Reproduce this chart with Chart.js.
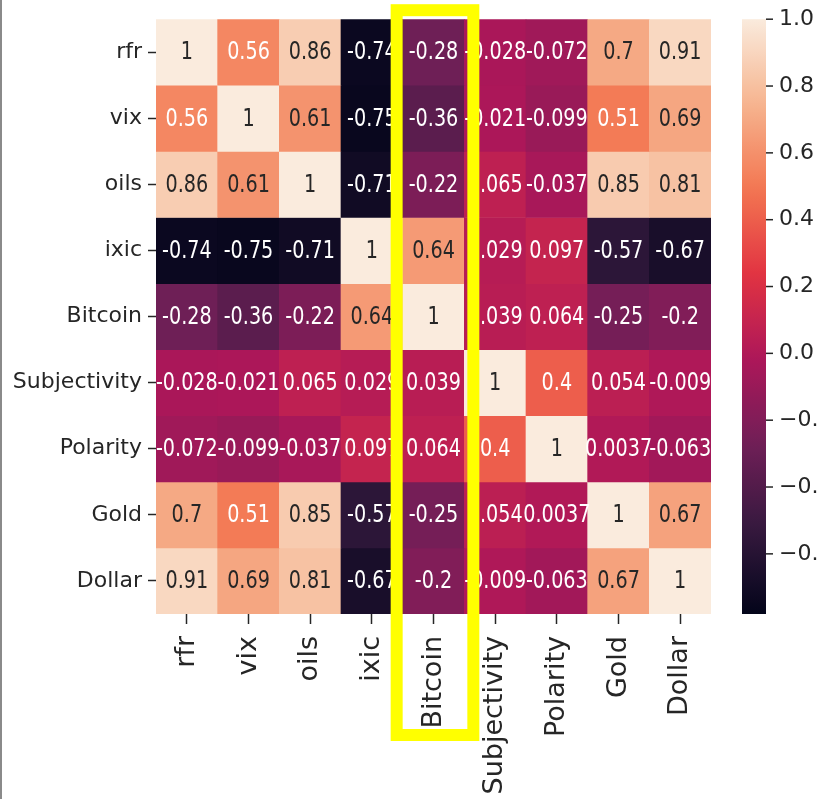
<!DOCTYPE html>
<html>
<head>
<meta charset="utf-8">
<script src="https://cdn.jsdelivr.net/npm/chart.js@4/dist/chart.umd.min.js"></script>
<style>
  html, body { margin: 0; padding: 0; background: #fff; }
  #wrap { position: relative; width: 817px; height: 799px; }
  #edge { position: absolute; left: 0; top: 0; width: 2px; height: 799px; background: #8a8a8a; }
</style>
</head>
<body>
<div id="wrap">
  <canvas id="heat"></canvas>
  <div id="edge"></div>
</div>
<script>
// variables, same order on both axes
const labels = ["rfr", "vix", "oils", "ixic", "Bitcoin", "Subjectivity", "Polarity", "Gold", "Dollar"];

// correlation rows
const rfrRow          = [1, 0.56, 0.86, -0.74, -0.28, -0.028, -0.072, 0.7, 0.91];
const vixRow          = [0.56, 1, 0.61, -0.75, -0.36, -0.021, -0.099, 0.51, 0.69];
const oilsRow         = [0.86, 0.61, 1, -0.71, -0.22, 0.065, -0.037, 0.85, 0.81];
const ixicRow         = [-0.74, -0.75, -0.71, 1, 0.64, 0.029, 0.097, -0.57, -0.67];
const bitcoinRow      = [-0.28, -0.36, -0.22, 0.64, 1, 0.039, 0.064, -0.25, -0.2];
const subjectivityRow = [-0.028, -0.021, 0.065, 0.029, 0.039, 1, 0.4, 0.054, -0.009];
const polarityRow     = [-0.072, -0.099, -0.037, 0.097, 0.064, 0.4, 1, 0.0037, -0.063];
const goldRow         = [0.7, 0.51, 0.85, -0.57, -0.25, 0.054, 0.0037, 1, 0.67];
const dollarRow       = [0.91, 0.69, 0.81, -0.67, -0.2, -0.009, -0.063, 0.67, 1];

const matrix = [rfrRow, vixRow, oilsRow, ixicRow, bitcoinRow, subjectivityRow, polarityRow, goldRow, dollarRow];

// colour bar range and its ticks
const colorMin = -0.78;
const colorMax = 1.0;
const colorbarTicks = [1.0, 0.8, 0.6, 0.4, 0.2, 0.0, -0.2, -0.4, -0.6];

const highlighted = "Bitcoin";

// seaborn "rocket" approximated by a few stops
const rocket = [
  [0.000, [3, 5, 26]],
  [0.143, [53, 25, 62]],
  [0.286, [112, 31, 87]],
  [0.429, [173, 23, 89]],
  [0.571, [225, 51, 66]],
  [0.714, [243, 118, 81]],
  [0.857, [246, 180, 143]],
  [1.000, [250, 235, 221]]
];

function rocketRGB(t) {
  t = Math.max(0, Math.min(1, t));
  for (let i = 1; i < rocket.length; i++) {
    if (t <= rocket[i][0]) {
      const [t0, c0] = rocket[i - 1];
      const [t1, c1] = rocket[i];
      const f = (t - t0) / (t1 - t0);
      return c0.map((c, k) => Math.round(c + (c1[k] - c) * f));
    }
  }
  return rocket[rocket.length - 1][1];
}

function valueRGB(v) {
  return rocketRGB((v - colorMin) / (colorMax - colorMin));
}

function css(rgb) {
  return "rgb(" + rgb.join(",") + ")";
}

function luminance(rgb) {
  const lin = rgb.map(c => {
    c = c / 255;
    return c <= 0.03928 ? c / 12.92 : Math.pow((c + 0.055) / 1.055, 2.4);
  });
  return 0.2126 * lin[0] + 0.7152 * lin[1] + 0.0722 * lin[2];
}

function fmt(v) {
  return String(Number(v.toPrecision(2)));
}

const font = "'DejaVu Sans', sans-serif";
const ink = "#262626";

const datasets = matrix.map((row, r) => ({
  label: labels[r],
  data: row.map(() => [r, r + 1]),
  values: row,
  backgroundColor: row.map(v => css(valueRGB(v))),
  borderWidth: 0,
  barPercentage: 1,
  categoryPercentage: 1,
  grouped: false
}));

// annotations, squeezed a little sideways like the source image
const cellText = {
  id: "cellText",
  afterDatasetsDraw(chart) {
    const ctx = chart.ctx;
    const squeeze = 0.8;
    ctx.save();
    ctx.font = "24px " + font;
    ctx.textAlign = "center";
    ctx.textBaseline = "middle";
    ctx.scale(squeeze, 1);
    chart.data.datasets.forEach((ds, r) => {
      chart.getDatasetMeta(r).data.forEach((bar, c) => {
        const v = ds.values[c];
        const p = bar.getCenterPoint();
        ctx.fillStyle = luminance(valueRGB(v)) > 0.39 ? ink : "#ffffff";
        ctx.fillText(fmt(v), p.x / squeeze, p.y + 1);
      });
    });
    ctx.restore();
  }
};

const colorbar = {
  id: "colorbar",
  afterDraw(chart) {
    const ctx = chart.ctx;
    const cb = chart.scales.cb;
    const x0 = cb.left + 31;
    const w = 24;
    const yTop = cb.getPixelForValue(colorMax);
    const yBot = cb.getPixelForValue(colorMin);
    const grad = ctx.createLinearGradient(0, yBot, 0, yTop);
    for (let i = 0; i <= 40; i++) {
      grad.addColorStop(i / 40, css(rocketRGB(i / 40)));
    }
    ctx.save();
    ctx.fillStyle = grad;
    ctx.fillRect(x0, yTop, w, yBot - yTop);
    ctx.strokeStyle = ink;
    ctx.lineWidth = 1.5;
    colorbarTicks.forEach(t => {
      const y = cb.getPixelForValue(t);
      ctx.beginPath();
      ctx.moveTo(x0 + w, y);
      ctx.lineTo(x0 + w + 7, y);
      ctx.stroke();
    });

    // yellow frame round the highlighted column
    const xs = chart.scales.x;
    const i = labels.indexOf(highlighted);
    const half = (xs.getPixelForValue(1) - xs.getPixelForValue(0)) / 2;
    const cx = xs.getPixelForValue(i);
    const area = chart.chartArea;
    ctx.strokeStyle = "#ffff00";
    ctx.lineWidth = 12;
    ctx.strokeRect(cx - half - 6, area.top - 9, 2 * half + 15, area.bottom - area.top + 130);
    ctx.restore();
  }
};

new Chart(document.getElementById("heat"), {
  type: "bar",
  data: { labels: labels, datasets: datasets },
  options: {
    responsive: true,
    maintainAspectRatio: false,
    animation: false,
    layout: { padding: { top: 16, left: 0, right: 0, bottom: 0 } },
    plugins: { legend: { display: false }, tooltip: { enabled: false } },
    scales: {
      x: {
        type: "category",
        offset: true,
        grid: { display: true, offset: false, drawOnChartArea: false, tickLength: 10, tickColor: ink, tickWidth: 1.5 },
        border: { display: false },
        ticks: {
          color: ink,
          font: { family: font, size: 27 },
          minRotation: 90,
          maxRotation: 90,
          autoSkip: false,
          padding: 12
        },
        afterFit(s) { s.height = 185; }
      },
      y: {
        type: "linear",
        min: 0,
        max: labels.length,
        reverse: true,
        grid: { display: true, drawOnChartArea: false, tickLength: 8, tickColor: ink, tickWidth: 1.5 },
        border: { display: false },
        afterBuildTicks(s) { s.ticks = labels.map((_, i) => ({ value: i + 0.5 })); },
        ticks: {
          color: ink,
          font: { family: font, size: 22 },
          autoSkip: false,
          padding: 6,
          callback: (v, i) => labels[i]
        },
        afterFit(s) { s.width = 156; }
      },
      cb: {
        type: "linear",
        axis: "y",
        position: "right",
        min: colorMin,
        max: colorMax,
        // invisible tick marks only reserve room for the bar
        grid: { display: true, drawOnChartArea: false, drawTicks: true, tickLength: 64, tickColor: "rgba(0,0,0,0)" },
        border: { display: false },
        afterBuildTicks(s) { s.ticks = colorbarTicks.map(v => ({ value: v })); },
        ticks: {
          color: ink,
          font: { family: font, size: 22 },
          padding: 4,
          callback: v => (v < 0 ? "\u2212" : "") + Math.abs(v).toFixed(1)
        },
        afterFit(s) { s.width = 106; }
      }
    }
  },
  plugins: [cellText, colorbar]
});
</script>
</body>
</html>
